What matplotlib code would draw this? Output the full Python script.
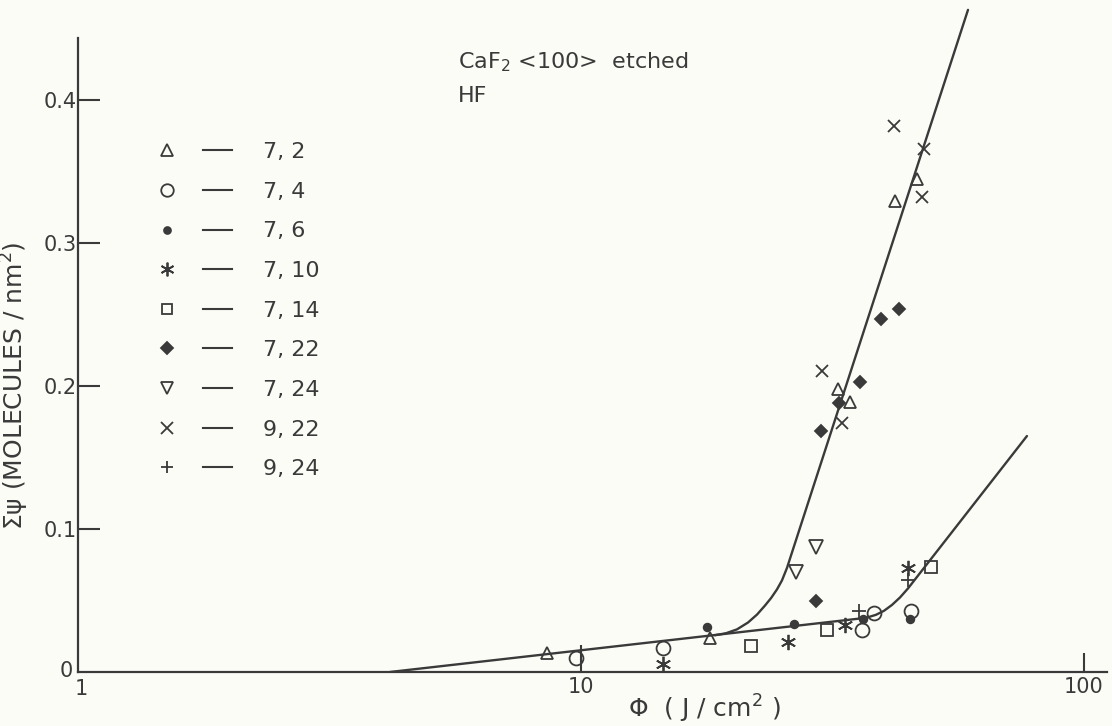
import matplotlib
matplotlib.use('Agg')
import matplotlib.pyplot as plt
import matplotlib.transforms as mtransforms
from matplotlib.lines import Line2D
from matplotlib.legend_handler import HandlerTuple
from matplotlib.ticker import NullLocator

INK = '#3a3a3a'
BG = '#fcfcf7'
plt.rcParams['font.family'] = ['DejaVu Sans']
plt.rcParams['mathtext.fontset'] = 'dejavusans'

# ---- data (fluence J/cm^2, yield molecules/nm^2) ----
series_labels = ["7, 2", "7, 4", "7, 6", "7, 10", "7, 14", "7, 22", "7, 24", "9, 22", "9, 24"]

x_7_2 = [8.56, 18.05, 32.4, 34.3, 42.1, 46.6]
y_7_2 = [0.0133, 0.0238, 0.198, 0.189, 0.329, 0.345]
x_7_4 = [9.77, 14.55, 36.2, 38.2, 45.3]
y_7_4 = [0.0096, 0.0168, 0.0294, 0.0413, 0.0430]
x_7_6 = [17.8, 26.5, 36.4, 45.0]
y_7_6 = [0.0315, 0.0336, 0.0370, 0.0371]
x_7_10 = [14.55, 25.8, 33.5, 44.7]
y_7_10 = [0.0056, 0.0210, 0.0330, 0.0727]
x_7_14 = [21.8, 30.8, 49.6]
y_7_14 = [0.0180, 0.0294, 0.0734]
x_7_22 = [29.3, 30.0, 32.6, 35.9, 39.5, 42.9]
y_7_22 = [0.0497, 0.1685, 0.188, 0.203, 0.247, 0.254]
x_7_24 = [26.8, 29.3]
y_7_24 = [0.0700, 0.0874]
x_9_22 = [30.1, 33.0, 41.9, 47.6, 48.1]
y_9_22 = [0.2105, 0.174, 0.382, 0.332, 0.366]
x_9_24 = [35.7, 44.7]
y_9_24 = [0.0427, 0.0640]

# hand-drawn fit curves (vertices)
low_x = [4.17, 35.87, 37.21, 38.59, 40.03, 41.52, 43.07, 44.67, 77.01]
low_y = [0.0, 0.0374, 0.0383, 0.0400, 0.0428, 0.0469, 0.0521, 0.0584, 0.165]
up_x = [18.47, 19.42, 20.42, 21.48, 22.39, 23.22, 23.87, 24.52, 25.09, 25.67, 58.8]
up_y = [0.0257, 0.0271, 0.0298, 0.0346, 0.0402, 0.0465, 0.0517, 0.0577, 0.0640, 0.0727, 0.463]

x_ticks = [1, 10, 100]
x_ticklabels = ['1', '10', '100']
y_ticks = [0, 0.1, 0.2, 0.3, 0.4]
y_ticklabels = ['0', '0.1', '0.2', '0.3', '0.4']

all_x = [x_7_2, x_7_4, x_7_6, x_7_10, x_7_14, x_7_22, x_7_24, x_9_22, x_9_24]
all_y = [y_7_2, y_7_4, y_7_6, y_7_10, y_7_14, y_7_22, y_7_24, y_9_22, y_9_24]

styles = [
    dict(marker='^', ms=9, mfc='none'),
    dict(marker='o', ms=10, mfc='none'),
    dict(marker='o', ms=5.5, mfc=INK),
    dict(marker=(6, 2, 0), ms=11),
    dict(marker='s', ms=8, mfc='none'),
    dict(marker='D', ms=6.5, mfc=INK),
    dict(marker='v', ms=10, mfc='none'),
    dict(marker='x', ms=9),
    dict(marker='+', ms=10),
]

fig = plt.figure(figsize=(11.12, 7.26), dpi=100, facecolor=BG)
ax = fig.add_axes([0.07014, 0.07438, 0.92536, 0.91598])
ax.set_facecolor(BG)
ax.set_xscale('log')
ax.set_xlim(1, 111.1)
ax.set_ylim(0, 0.465)

ax.plot(low_x, low_y, color=INK, lw=1.7, zorder=2, solid_capstyle='round',
        solid_joinstyle='round')
ax.plot(up_x, up_y, color=INK, lw=1.7, zorder=2, clip_on=False, solid_capstyle='round',
        solid_joinstyle='round')

handles = []
for xs, ys, st in zip(all_x, all_y, styles):
    ax.plot(xs, ys, linestyle='none', marker=st['marker'], markersize=st['ms'],
            markerfacecolor=st.get('mfc', INK), markeredgecolor=INK,
            markeredgewidth=1.3, zorder=3, clip_on=False)
    mk = Line2D([], [], linestyle='none', marker=st['marker'], markersize=st['ms'] * 0.9,
                markerfacecolor=st.get('mfc', INK), markeredgecolor=INK, markeredgewidth=1.3)
    ln = Line2D([], [], color=INK, lw=1.5)
    handles.append((mk, ln))

leg = ax.legend(handles, series_labels, handler_map={tuple: HandlerTuple(ndivide=None, pad=0.966)},
                loc='upper left', bbox_to_anchor=(0.0722, 0.797), bbox_transform=ax.transAxes,
                frameon=False, fontsize=16, handlelength=3.58, handletextpad=1.40,
                labelspacing=0.884, borderpad=0, borderaxespad=0)
for t in leg.get_texts():
    t.set_color(INK)

for s in ['top', 'right']:
    ax.spines[s].set_visible(False)
for s in ['left', 'bottom']:
    ax.spines[s].set_color(INK)
    ax.spines[s].set_linewidth(1.6)
ax.spines['left'].set_bounds(0, 0.443)

ax.set_xticks(x_ticks, x_ticklabels)
ax.xaxis.set_minor_locator(NullLocator())
ax.set_yticks(y_ticks, y_ticklabels)
ax.tick_params(axis='x', direction='in', length=19.5, width=1.5, pad=3.5, labelsize=15,
               colors=INK)
ax.tick_params(axis='y', direction='in', length=16, width=1.5, pad=1, labelsize=15,
               colors=INK)
xt = ax.xaxis.get_major_ticks()
xt[0].tick1line.set_markersize(0)
xt[2].tick1line.set_markersize(13.7)
yt0 = ax.yaxis.get_major_ticks()[0]
yt0.tick1line.set_markersize(0)
yt0.label1.set_transform(yt0.label1.get_transform() +
                         mtransforms.ScaledTranslation(-4 / 100, 3 / 100, fig.dpi_scale_trans))
xt[0].label1.set_transform(xt[0].label1.get_transform() +
                           mtransforms.ScaledTranslation(3 / 100, -2 / 100, fig.dpi_scale_trans))

ax.set_xlabel('Φ  ( J / cm$^2$ )', fontsize=18, color=INK)
ax.xaxis.set_label_coords(0.609, -0.032)
ax.set_ylabel('Σψ (MOLECULES / nm$^2$)', fontsize=18, color=INK)
ax.yaxis.set_label_coords(-0.046, 0.43)

ax.text(0.3693, 0.917, 'CaF$_2$ <100>  etched', transform=ax.transAxes, fontsize=16,
        va='center', ha='left', color=INK)
ax.text(0.3693, 0.866, 'HF', transform=ax.transAxes, fontsize=16,
        va='center', ha='left', color=INK)

fig.savefig('out.png', dpi=100, facecolor=BG)
